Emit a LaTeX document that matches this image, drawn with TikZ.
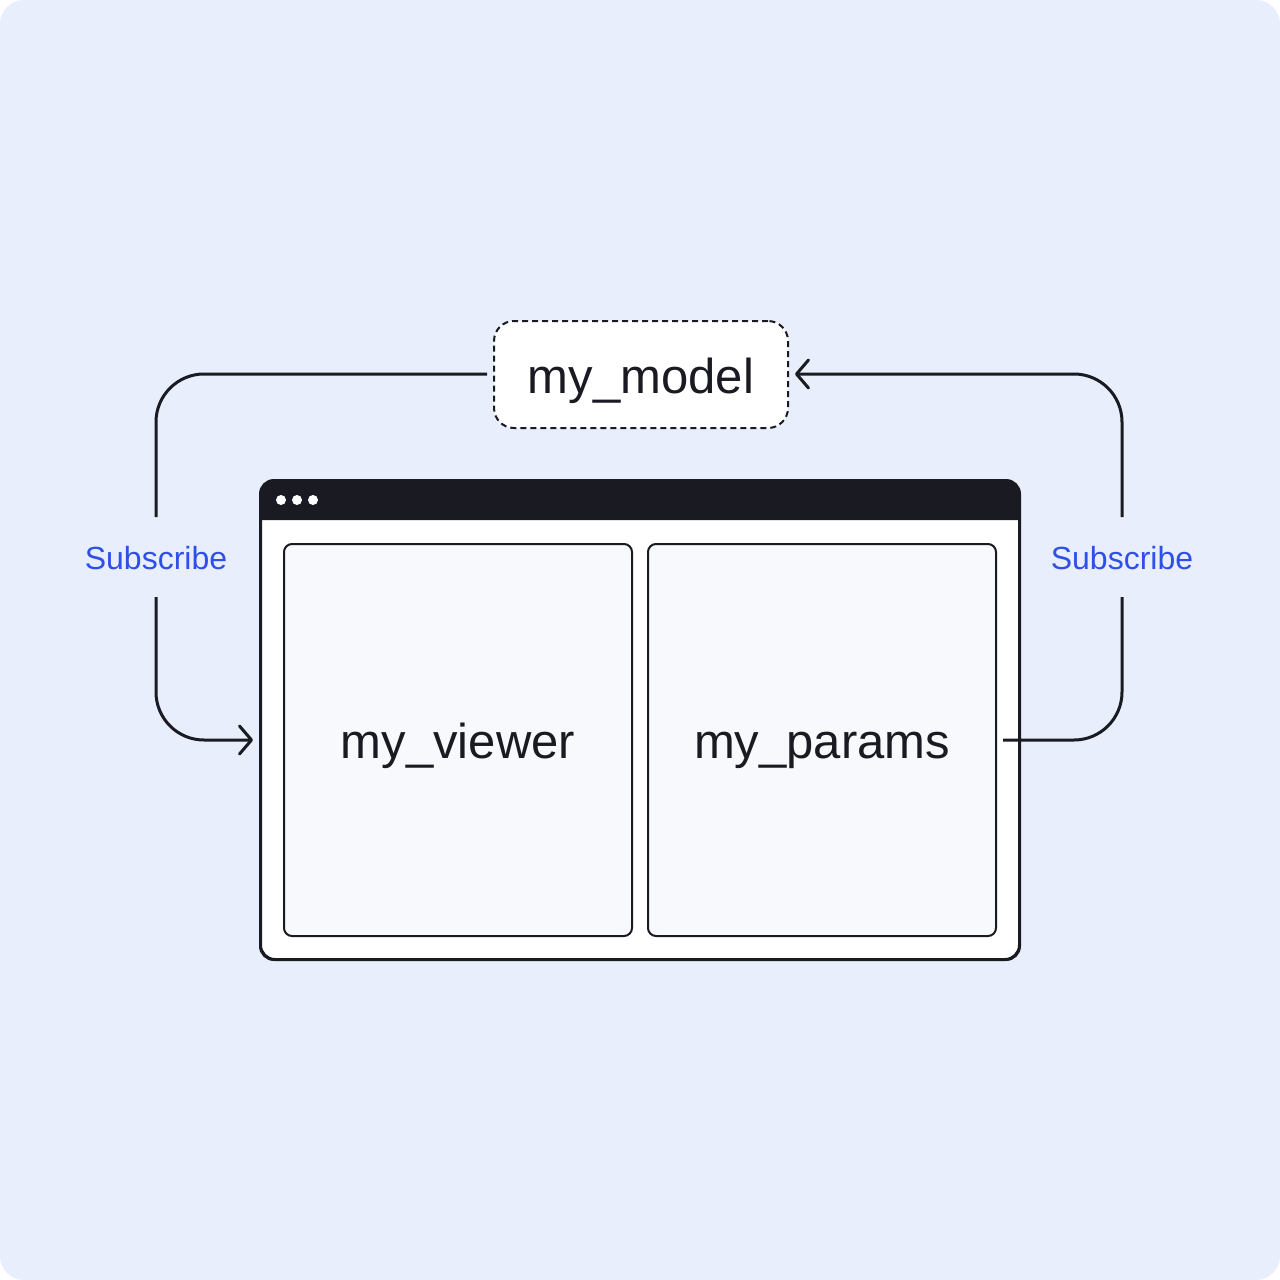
\documentclass[tikz,border=0pt]{standalone}
\usepackage{fontspec}
\setmainfont{Liberation Sans}
\usetikzlibrary{arrows.meta}
\definecolor{bg}{HTML}{E8EEFB}
\definecolor{ink}{HTML}{1A1A22}
\definecolor{sub}{HTML}{2F4FEA}
\definecolor{panel}{HTML}{F8F9FC}
\tikzset{
  conn/.style={draw=ink, line width=3pt},
  arr/.style={-{Straight Barb[length=12pt,width=28pt,round]}},
  big/.style={font=\fontsize{49}{59}\selectfont, text=ink, text height=37pt, text depth=0pt},
  sublbl/.style={font=\fontsize{32}{38}\selectfont, text=sub, inner sep=0pt},
  panelbox/.style={draw=ink, line width=2pt, fill=panel, rounded corners=8pt, minimum width=348pt, minimum height=392pt, inner sep=0pt, big},
}
\begin{document}
\begin{tikzpicture}[x=1pt,y=-1pt]
\useasboundingbox (0,0) rectangle (1280,1280);
\fill[white] (0,0) rectangle (1280,1280);
\fill[bg, rounded corners=24pt] (0,0) rectangle (1280,1280);

% model
\node[draw=ink, line width=2pt, dash pattern=on 6pt off 4pt, fill=white, rounded corners=20pt,
      minimum width=294pt, minimum height=107pt, inner sep=0pt, big] (model) at (641,374.5) {my\_model};

% window
\node[draw=ink, line width=2pt, fill=white, rounded corners=14pt, minimum width=758pt, minimum height=478pt, inner sep=0pt] (window) at (640,720) {};
\fill[ink] (261,520) {[rounded corners=14pt] -- (261,481) -- (1019,481)} -- (1019,520) -- cycle;
\draw[ink, line width=2pt, rounded corners=14pt] (window.south west) rectangle (window.north east);
\foreach \i/\x in {1/281,2/297,3/313} \fill[white] (\x,500) circle (5pt);

\node[panelbox] (viewer) at (458,740) {my\_viewer};
\node[panelbox] (params) at (822,740) {my\_params};

% labels
\node[sublbl] (lsub) at (156,558) {Subscribe};
\node[sublbl] (rsub) at (1122,558) {Subscribe};

% coordinates
\coordinate (lstart) at (487,374);
\coordinate (lend) at (253,740);
\coordinate (rstart) at (1003,740);
\coordinate (rend) at (795,374);

% left connector
\draw[conn, rounded corners=48pt] (lstart) -- (156,374) -- (156,517);
\draw[conn, rounded corners=48pt, arr] (156,597) -- (156,740) -- (lend);
% right connector
\draw[conn, rounded corners=48pt] (rstart) -- (1122,740) -- (1122,597);
\draw[conn, rounded corners=48pt, arr] (1122,517) -- (1122,374) -- (rend);
\end{tikzpicture}
\end{document}
